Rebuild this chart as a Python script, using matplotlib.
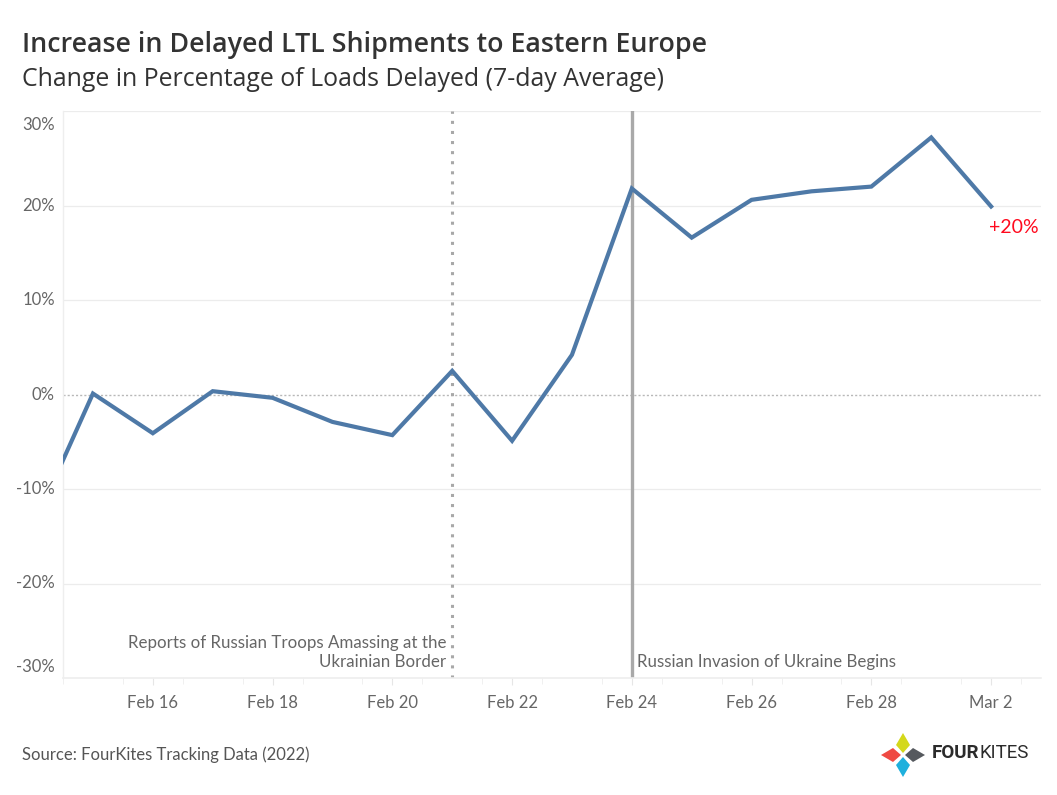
import matplotlib
matplotlib.use("Agg")
import matplotlib.pyplot as plt
import matplotlib.dates as mdates
from matplotlib.patches import Polygon
import pandas as pd
import numpy as np

plt.rcParams['font.family'] = ['Lato', 'DejaVu Sans']

# ---- data ----
dates = ["2022-02-14", "2022-02-15", "2022-02-16", "2022-02-17", "2022-02-18",
         "2022-02-19", "2022-02-20", "2022-02-21", "2022-02-22", "2022-02-23",
         "2022-02-24", "2022-02-25", "2022-02-26", "2022-02-27", "2022-02-28",
         "2022-03-01", "2022-03-02"]
pct_change = [-14.0, 0.1, -4.1, 0.35, -0.35, -2.9, -4.3, 2.5, -4.9, 4.2,
              21.8, 16.6, 20.6, 21.5, 22.0, 27.2, 19.9]
tick_dates = ["2022-02-16", "2022-02-18", "2022-02-20", "2022-02-22",
              "2022-02-24", "2022-02-26", "2022-02-28", "2022-03-02"]
tick_labels = ["Feb 16", "Feb 18", "Feb 20", "Feb 22", "Feb 24", "Feb 26",
               "Feb 28", "Mar 2"]
y_ticks = [-30, -20, -10, 0, 10, 20, 30]
y_tick_labels = ["-30%", "-20%", "-10%", "0%", "10%", "20%", "30%"]
event_troops = "2022-02-21"
event_invasion = "2022-02-24"
end_label = "+20%"

x = mdates.date2num(pd.to_datetime(dates))
xt = mdates.date2num(pd.to_datetime(tick_dates))
x_troops = mdates.date2num(pd.to_datetime(event_troops))
x_inv = mdates.date2num(pd.to_datetime(event_invasion))

W, H = 1057, 795
fig = plt.figure(figsize=(W / 100, H / 100), dpi=100)
ax = fig.add_axes([63 / W, 1 - 678 / H, (1041 - 63) / W, (678 - 111) / H])

text_gray = "#666666"
ax.set_xlim(x[2] - 88 / 60, x[-1] + 50 / 60)
ax.set_ylim(-30, 30)

# gridlines
for yv in y_ticks:
    if yv == 0:
        continue
    ax.axhline(yv, color="#ececec", lw=0.9, zorder=0)
ax.axhline(0, color="#b8b8b8", lw=1.0, ls=(0, (1.5, 1.5)), zorder=1)

# event lines
ax.axvline(x_troops, color="#a8a8a8", lw=2.2, ls=(0, (1, 2.3)), zorder=2)
ax.axvline(x_inv, color="#a9a9a9", lw=2.4, zorder=2)

# main line
ax.plot(x, pct_change, color="#4e79a7", lw=3.0, solid_joinstyle="miter",
        zorder=3, clip_on=True)

# end label
ax.annotate(end_label, xy=(x[-1], pct_change[-1]), xytext=(48, -21),
            textcoords="offset pixels", ha="right", va="center",
            color="#ff0a1e", fontsize=14)

# event annotations
ax.annotate("Reports of Russian Troops Amassing at the\nUkrainian Border",
            xy=(x_troops, -30), xytext=(-6, 8), textcoords="offset pixels",
            ha="right", va="bottom", color=text_gray, fontsize=12.2,
            linespacing=1.25, multialignment="right")
ax.annotate("Russian Invasion of Ukraine Begins",
            xy=(x_inv, -30), xytext=(5, 8), textcoords="offset pixels",
            ha="left", va="bottom", color=text_gray, fontsize=12.2)

# axes style
for s in ["top", "right"]:
    ax.spines[s].set_visible(False)
ax.spines["left"].set_color("#eeeeee")
ax.spines["bottom"].set_color("#eeeeee")
ax.spines["left"].set_linewidth(1.0)
ax.spines["bottom"].set_linewidth(1.2)

ax.set_yticks(y_ticks)
ax.set_yticklabels([])
ax.tick_params(axis="y", length=0)
ytrans = ax.get_yaxis_transform()
for lab, yv in zip(y_tick_labels, y_ticks):
    dy = 0
    va = "center"
    if yv == 30:
        va, dy = "top", -6
    elif yv == -30:
        va, dy = "bottom", 3
    ax.annotate(lab, xy=(0, yv), xycoords=ytrans, xytext=(-8, dy),
                textcoords="offset pixels", ha="right", va=va,
                fontsize=12, color=text_gray, annotation_clip=False)

ax.set_xticks(xt)
ax.set_xticklabels(tick_labels)
ax.set_xticks(np.arange(np.floor(ax.get_xlim()[0]) + 0.5, ax.get_xlim()[1], 1.0), minor=True)
ax.tick_params(axis="x", which="major", length=5, color="#e6e6e6", pad=7,
               labelsize=12, labelcolor=text_gray)
ax.tick_params(axis="x", which="minor", length=4, color="#eeeeee")

# titles
fig.text(22 / W, 1 - 45 / H, "Increase in Delayed LTL Shipments to Eastern Europe",
         fontsize=19.3, fontweight="semibold", color="#333333", va="center",
         ha="left", family="Open Sans")
fig.text(22 / W, 1 - 80 / H, "Change in Percentage of Loads Delayed (7-day Average)",
         fontsize=17.9, color="#333333", va="center", ha="left", family="Open Sans")
fig.text(22 / W, 1 - 755 / H, "Source: FourKites Tracking Data (2022)",
         fontsize=12, color="#555555", va="center", ha="left")

# logo
lax = fig.add_axes([0, 0, 1, 1], zorder=5)
lax.set_xlim(0, W)
lax.set_ylim(H, 0)
lax.axis("off")
cx, cy = 903, 755
kites = [((0, -1), "#d4d81a"), ((-1, 0), "#ef4a43"), ((1, 0), "#55595e"),
         ((0, 1), "#1fb0dd")]
for (dx, dy), col in kites:
    px, py = -dy, dx
    pts = [(cx + 2 * dx, cy + 2 * dy),
           (cx + 10 * dx + 7 * px, cy + 10 * dy + 7 * py),
           (cx + 22 * dx, cy + 22 * dy),
           (cx + 10 * dx - 7 * px, cy + 10 * dy - 7 * py)]
    lax.add_patch(Polygon(pts, closed=True, color=col, lw=0))
t1 = lax.text(932, 753, "FOUR", fontsize=13.5, fontweight="bold", color="#2b2b2b",
              va="center", ha="left", family="Roboto")
fig.canvas.draw()
bb = t1.get_window_extent()
lax.text(932 + bb.width, 753, "KITES", fontsize=13.5, color="#2b2b2b",
         va="center", ha="left", family="Roboto")

fig.savefig("out.png", dpi=100)
